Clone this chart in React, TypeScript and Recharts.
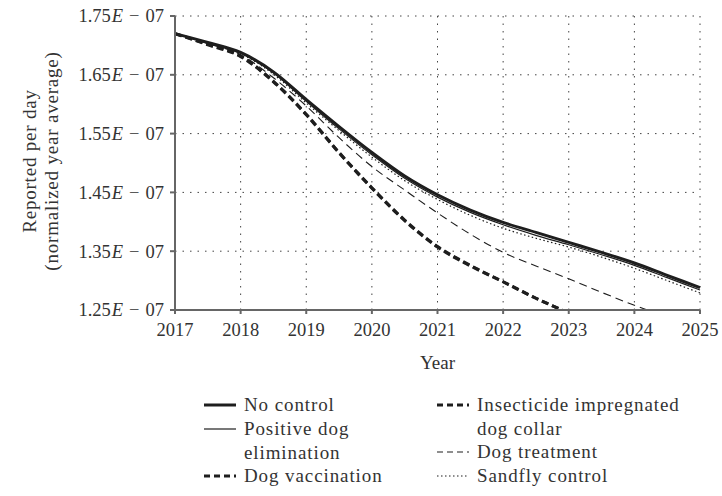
import { LineChart, Line, XAxis, YAxis, CartesianGrid } from 'recharts'

// values are in units of 1E-07
const years = [2017, 2017.5, 2018, 2018.5, 2019, 2019.5, 2020, 2020.5, 2021, 2021.5, 2022, 2022.5, 2023, 2023.5, 2024, 2024.5, 2025]
const noControl = [1.72, 1.705, 1.688, 1.655, 1.608, 1.562, 1.518, 1.478, 1.446, 1.42, 1.399, 1.382, 1.365, 1.348, 1.33, 1.309, 1.288]
const positiveDogElimination = [1.72, 1.704, 1.687, 1.653, 1.605, 1.558, 1.514, 1.474, 1.442, 1.416, 1.395, 1.377, 1.361, 1.344, 1.326, 1.305, 1.284]
const dogVaccination = [1.72, 1.701, 1.681, 1.638, 1.582, 1.517, 1.457, 1.402, 1.357, 1.325, 1.298, 1.27, 1.245, 1.222, 1.2, 1.18, 1.16]
const dogCollar = [1.72, 1.702, 1.682, 1.639, 1.583, 1.518, 1.458, 1.403, 1.358, 1.326, 1.298, 1.27, 1.245, 1.222, 1.2, 1.18, 1.16]
const dogTreatment = [1.72, 1.703, 1.684, 1.645, 1.597, 1.543, 1.494, 1.454, 1.415, 1.379, 1.348, 1.325, 1.303, 1.28, 1.258, 1.238, 1.218]
const sandflyControl = [1.72, 1.704, 1.686, 1.651, 1.602, 1.555, 1.51, 1.47, 1.438, 1.411, 1.389, 1.372, 1.357, 1.34, 1.321, 1.3, 1.279]

const xTicks = [2017, 2018, 2019, 2020, 2021, 2022, 2023, 2024, 2025]
const yTicks = [1.25, 1.35, 1.45, 1.55, 1.65, 1.75]

const data = years.map((year, i) => ({
  year,
  noControl: noControl[i],
  positiveDogElimination: positiveDogElimination[i],
  dogVaccination: dogVaccination[i],
  dogCollar: dogCollar[i],
  dogTreatment: dogTreatment[i],
  sandflyControl: sandflyControl[i],
}))

const FONT = '"Liberation Serif", "DejaVu Serif", serif'
const INK = '#1e1e1e'
const TXT = '#333'

function YTick({ x, y, payload }: any) {
  return (
    <text x={x} y={y} dy="0.35em" textAnchor="end" fontFamily={FONT} fontSize={18.5} fill={TXT}>
      {payload.value.toFixed(2)}
      <tspan fontStyle="italic" dx={1}>E</tspan>
      <tspan dx={6}>−</tspan>
      <tspan dx={6}>07</tspan>
    </text>
  )
}

function LegendItem({ label, dash, width, lines }: { label: string; dash?: string; width: number; lines?: string[] }) {
  return (
    <div style={{ display: 'flex', alignItems: 'flex-start', height: lines ? 47 : 24 }}>
      <svg width={34} height={24} style={{ flex: 'none' }}>
        <line x1={1} x2={33} y1={12} y2={12} stroke={INK} strokeWidth={width} strokeDasharray={dash} />
      </svg>
      <div style={{ marginLeft: 7, lineHeight: '23.5px' }}>
        {(lines || [label]).map((t, i) => <div key={i}>{t}</div>)}
      </div>
    </div>
  )
}

export default function App() {
  return (
    <div style={{ position: 'absolute', left: 0, top: 0, width: 722, height: 496, background: '#fff', fontFamily: FONT, color: TXT }}>
      <LineChart width={722} height={370} data={data} margin={{ top: 16, right: 22, bottom: 0, left: 75 }}>
        <CartesianGrid stroke="#444" strokeDasharray="1.5 6" verticalValues={xTicks} horizontalValues={yTicks} />
        <XAxis
          dataKey="year"
          type="number"
          domain={[2017, 2025]}
          ticks={xTicks}
          height={60}
          stroke="#666"
          strokeWidth={2}
          tickSize={4}
          tickMargin={9}
          tick={{ fontFamily: FONT, fontSize: 18.5, fill: TXT }}
        />
        <YAxis
          type="number"
          domain={[1.25, 1.75]}
          ticks={yTicks}
          allowDataOverflow
          width={100}
          stroke="#666"
          strokeWidth={2}
          tickSize={5}
          tickMargin={6}
          tick={<YTick />}
        />
        <Line dataKey="sandflyControl" type="monotone" stroke={INK} strokeWidth={1.2} strokeDasharray="1.5 2.5" dot={false} isAnimationActive={false} />
        <Line dataKey="dogTreatment" type="monotone" stroke={INK} strokeWidth={1.1} strokeDasharray="8 5" dot={false} isAnimationActive={false} />
        <Line dataKey="dogCollar" type="monotone" stroke={INK} strokeWidth={3} strokeDasharray="7 4" dot={false} isAnimationActive={false} />
        <Line dataKey="dogVaccination" type="monotone" stroke={INK} strokeWidth={3} strokeDasharray="7 4" dot={false} isAnimationActive={false} />
        <Line dataKey="positiveDogElimination" type="monotone" stroke={INK} strokeWidth={1.2} dot={false} isAnimationActive={false} />
        <Line dataKey="noControl" type="monotone" stroke={INK} strokeWidth={3} dot={false} isAnimationActive={false} />
      </LineChart>

      <svg width={80} height={330} style={{ position: 'absolute', left: 0, top: 0 }}>
        <text transform="translate(36,161) rotate(-90)" textAnchor="middle" fontFamily={FONT} fontSize={19} letterSpacing={0.8} fill={TXT}>Reported per day</text>
        <text transform="translate(58,161) rotate(-90)" textAnchor="middle" fontFamily={FONT} fontSize={19} letterSpacing={0.8} fill={TXT}>(normalized year average)</text>
      </svg>

      <div style={{ position: 'absolute', left: 0, top: 350, width: 875, textAlign: 'center', fontSize: 19, lineHeight: '26px' }}>Year</div>

      <div style={{ position: 'absolute', left: 203, top: 393, fontSize: 19, letterSpacing: 0.9 }}>
        <LegendItem label="No control" width={3} />
        <LegendItem label="Positive dog elimination" width={1.2} lines={['Positive dog', 'elimination']} />
        <LegendItem label="Dog vaccination" width={3} dash="6 4" />
      </div>
      <div style={{ position: 'absolute', left: 436, top: 393, fontSize: 19, letterSpacing: 0.9 }}>
        <LegendItem label="Insecticide impregnated dog collar" width={3} dash="6 4" lines={['Insecticide impregnated', 'dog collar']} />
        <LegendItem label="Dog treatment" width={1.1} dash="6 4" />
        <LegendItem label="Sandfly control" width={1.2} dash="1.5 2.5" />
      </div>
    </div>
  )
}
